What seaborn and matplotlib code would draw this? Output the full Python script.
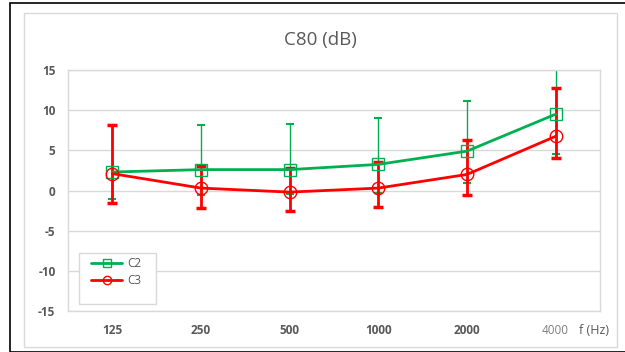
import matplotlib
matplotlib.use("Agg")
import matplotlib.pyplot as plt
import seaborn as sns
import pandas as pd
import numpy as np
from matplotlib.patches import Rectangle

# data
freqs = ["125", "250", "500", "1000", "2000", "4000"]
c2 = [2.3, 2.6, 2.6, 3.25, 4.9, 9.5]
c2_hi = [8.1, 8.2, 8.3, 9.0, 11.1, 15.5]
c2_lo = [-1.0, -0.5, -0.4, -0.3, 0.9, 4.5]
c3 = [2.1, 0.3, -0.2, 0.3, 2.0, 6.75]
c3_hi = [8.1, 3.1, 2.8, 3.5, 6.25, 12.8]
c3_lo = [-1.5, -2.2, -2.6, -2.0, -0.5, 4.1]

green = "#00B050"
red = "#FF0000"

df = pd.DataFrame({"pos": np.arange(len(freqs)), "freq": freqs, "C2": c2, "C3": c3})

sns.set_style("white")
plt.rcParams["font.family"] = ["Open Sans", "DejaVu Sans"]
plt.rcParams["axes.unicode_minus"] = False

fig = plt.figure(figsize=(6.25, 3.52), dpi=100)
ax = fig.add_axes([68 / 625, 1 - 311 / 352, 532 / 625, 241 / 352])

# outer frames (screenshot border + chart area border)
fig.patches.append(Rectangle((10 / 625, 0), 1, 1 - 3 / 352, transform=fig.transFigure,
                             fill=False, edgecolor="black", linewidth=1.2))
fig.patches.append(Rectangle((24 / 625, 5 / 352), 593 / 625, 334 / 352, transform=fig.transFigure,
                             fill=False, edgecolor="#D9D9D9", linewidth=1.0))

# error bars
ax.errorbar(df["pos"], df["C2"],
            yerr=[np.array(c2) - np.array(c2_lo), np.array(c2_hi) - np.array(c2)],
            fmt="none", ecolor=green, elinewidth=1.0, capsize=3, capthick=1.5, zorder=2)
ax.errorbar(df["pos"], df["C3"],
            yerr=[np.array(c3) - np.array(c3_lo), np.array(c3_hi) - np.array(c3)],
            fmt="none", ecolor=red, elinewidth=2.0, capsize=3.5, capthick=2.5, zorder=3)

sns.lineplot(data=df, x="pos", y="C2", ax=ax, color=green, linewidth=2, marker="s",
             markersize=8.5, markerfacecolor="none", markeredgecolor=green,
             markeredgewidth=1.0, label="C2", zorder=4)
sns.lineplot(data=df, x="pos", y="C3", ax=ax, color=red, linewidth=2, marker="o",
             markersize=9, markerfacecolor="none", markeredgecolor=red,
             markeredgewidth=1.0, label="C3", zorder=5)

ax.set_xlim(-0.5, len(freqs) - 0.5)
ax.set_ylim(-15, 15)
ax.set_yticks(range(-15, 16, 5))
ax.set_xticks(df["pos"])
ax.set_xticklabels(freqs)
ax.set_xlabel("")
ax.set_ylabel("")
ax.grid(axis="y", color="#D9D9D9", linewidth=1.0)
ax.set_axisbelow(True)
for s in ax.spines.values():
    s.set_color("#D9D9D9")
    s.set_linewidth(1.0)
ax.tick_params(axis="both", length=0, labelsize=8.5, labelcolor="#595959")
ax.tick_params(axis="x", pad=9)
ax.tick_params(axis="y", pad=9)
for lbl in ax.get_xticklabels():
    lbl.set_fontweight("bold")
for lbl in ax.get_yticklabels():
    lbl.set_fontweight("bold")
ax.get_xticklabels()[-1].set_fontweight("normal")
ax.get_xticklabels()[-1].set_color("#7F7F7F")

ax.text(1.0 + 9 / 532, -19 / 241, "f (Hz)", transform=ax.transAxes, ha="right", va="center",
        fontsize=9, color="#595959")

fig.text(320 / 625, 1 - 40 / 352, "C80 (dB)", ha="center", va="center",
         fontsize=13.5, color="#595959")

# legend with its own frame (reference box has extra blank space below the entries)
ax.add_patch(Rectangle((11 / 532, 7 / 241), 77 / 532, 51 / 241, transform=ax.transAxes,
                       facecolor="white", edgecolor="#D9D9D9", linewidth=1.0, zorder=6))
leg = ax.legend(loc="upper left", bbox_to_anchor=(14 / 532, 63 / 241), frameon=False,
                fontsize=8.5, handlelength=2.6, borderpad=0.3, labelspacing=0.3,
                handletextpad=0.4)
leg.set_zorder(7)
for t in leg.get_texts():
    t.set_color("#595959")
for h in leg.legend_handles:
    h.set_markersize(6)

fig.savefig("out.png", dpi=100)
